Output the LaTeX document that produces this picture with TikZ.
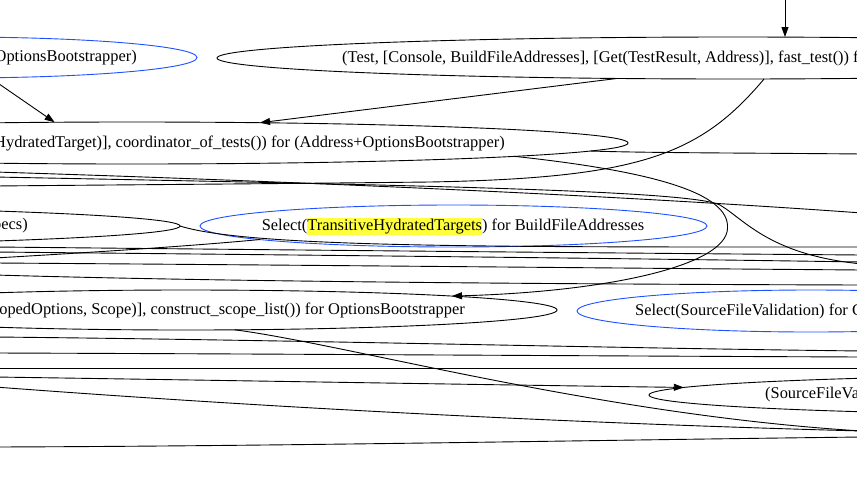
\documentclass[tikz,border=0pt]{standalone}
\usepackage{fontspec}
\setmainfont{Liberation Serif}
\usetikzlibrary{arrows.meta,shapes.geometric}
\definecolor{gvblue}{RGB}{30,80,255}
\definecolor{hl}{RGB}{255,255,60}
\begin{document}
\begin{tikzpicture}[x=1pt,y=-1pt,
  nd/.style={draw=black,ellipse,line width=0.9pt,inner sep=0pt,outer sep=0pt},
  bnd/.style={nd,draw=gvblue},
  lbl/.style={inner sep=0pt,font=\fontsize{16.4}{19}\selectfont},
  edge/.style={line width=0.9pt},
  arr/.style={edge,-{Triangle[length=10pt,width=7pt]}}]
\useasboundingbox (0,0) rectangle (857,480);
\clip (0,0) rectangle (857,480);
\fill[white] (0,0) rectangle (857,480);
% ellipses
\node[bnd,minimum width=484pt,minimum height=41pt] (e1) at (-45,57.5) {};
\node[nd,minimum width=1032pt,minimum height=42pt] (e2) at (733,58) {};
\node[nd,minimum width=992pt,minimum height=42pt] (e3) at (132,143) {};
\node[nd,minimum width=1224pt,minimum height=42pt] (e4) at (-432,226) {};
\node[bnd,minimum width=507pt,minimum height=42pt] (e5) at (453.5,226) {};
\node[nd,minimum width=742pt,minimum height=40pt] (e6) at (186,310) {};
\node[bnd,minimum width=468pt,minimum height=42pt] (e7) at (811,311) {};
\node[nd,minimum width=936pt,minimum height=40pt] (e8) at (1117,395) {};
% labels
\node[lbl,anchor=east] (t1) at (137,58) {OptionsBootstrapper)};
\node[lbl,anchor=west] (t2) at (342,58) {(Test, [Console, BuildFileAddresses], [Get(TestResult, Address)], fast\_test()) f};
\node[lbl,anchor=east] (t3) at (505,143) {HydratedTarget)], coordinator\_of\_tests()) for (Address+OptionsBootstrapper)};
\node[lbl,anchor=east] (t4) at (28,226) {pecs)};
\node[lbl] (t5) at (453,226) {Select({\setlength{\fboxsep}{0pt}\colorbox{hl}{\rule[-4pt]{0pt}{17pt}TransitiveHydratedTargets}}) for BuildFileAddresses};
\node[lbl,anchor=east] (t6) at (465,310) {opedOptions, Scope)], construct\_scope\_list()) for OptionsBootstrapper};
\node[lbl,anchor=west] (t7) at (635,311) {Select(SourceFileValidation) for C};
\node[lbl,anchor=west] (t8) at (765,395) {(SourceFileVa};
% off-frame ends
\coordinate (top) at (785,-5);
\coordinate (lc1) at (-5,186);
\coordinate (rc1) at (862,154);
\coordinate (lc2) at (-5,172);
\coordinate (rc2) at (862,213);
\coordinate (lc3) at (-5,177);
\coordinate (rc3) at (862,264);
\coordinate (rc4) at (862,247);
\coordinate (lc5) at (-5,247);
\coordinate (rc5) at (862,255);
\coordinate (lc6) at (-5,252);
\coordinate (rc6) at (862,262);
\coordinate (lc7) at (-5,258);
\coordinate (lc8) at (-5,263);
\coordinate (rc8) at (862,270);
\coordinate (lc9) at (-5,275);
\coordinate (rc9) at (862,285);
\coordinate (rc10) at (862,431);
\coordinate (lc11) at (-5,337);
\coordinate (rc11) at (862,351);
\coordinate (lc12) at (-5,353);
\coordinate (rc12) at (862,357);
\coordinate (lc13) at (-5,368);
\coordinate (rc13) at (862,368);
\coordinate (lc14) at (-5,377);
\coordinate (lc15) at (-5,387);
\coordinate (rc15) at (862,431);
\coordinate (lc16) at (-5,447);
\coordinate (rc16) at (862,437);
% edges, upper part
\draw[arr] (top) -- (e2.north -| top);
\draw[arr] (e1.-30.2) -- (e3.165.1);
\draw[arr] (e2.190) -- (e3.9.57);
\draw[edge] (e2.-34.1) .. controls (700,155) and (640,178) .. (430,182) .. controls (250,184) and (100,185) .. (lc1);
\draw[arr] (e3.-2.12) .. controls (660,172) and (735,195) .. (727,232) .. controls (718,268) and (600,292) .. (e6.3.49);
\draw[edge] (e3.-1.42) .. controls (650,153) and (760,153) .. (rc1);
\draw[edge] (lc2) .. controls (250,180) and (600,194) .. (rc2);
\draw[edge] (lc3) .. controls (400,185) and (690,190) .. (720,205) .. controls (745,220) and (770,255) .. (rc3);
% middle band
\draw[edge] (e4.-0.64) .. controls (250,248) and (500,247) .. (rc4);
\draw[edge] (lc5) .. controls (300,250) and (600,253) .. (rc5);
\draw[edge] (lc6) .. controls (300,255) and (600,258) .. (rc6);
\draw[edge] (e5.184.35) .. controls (180,247) and (80,253) .. (lc7);
\draw[edge] (lc8) .. controls (300,265) and (600,268) .. (rc8);
\draw[edge] (lc9) .. controls (200,281) and (500,284) .. (rc9);
% lower band
\draw[edge] (e6.-22.0) .. controls (350,345) and (600,415) .. (rc10);
\draw[edge] (lc11) .. controls (300,340) and (600,348) .. (rc11);
\draw[edge] (lc12) .. controls (300,354) and (600,356) .. (rc12);
\draw[edge] (lc13) -- (rc13);
\draw[arr] (lc14) .. controls (200,380) and (500,385) .. (e8.179.08);
\draw[edge] (lc15) .. controls (300,410) and (600,424) .. (rc15);
\draw[edge] (lc16) .. controls (300,446) and (600,440) .. (rc16);
\end{tikzpicture}
\end{document}
